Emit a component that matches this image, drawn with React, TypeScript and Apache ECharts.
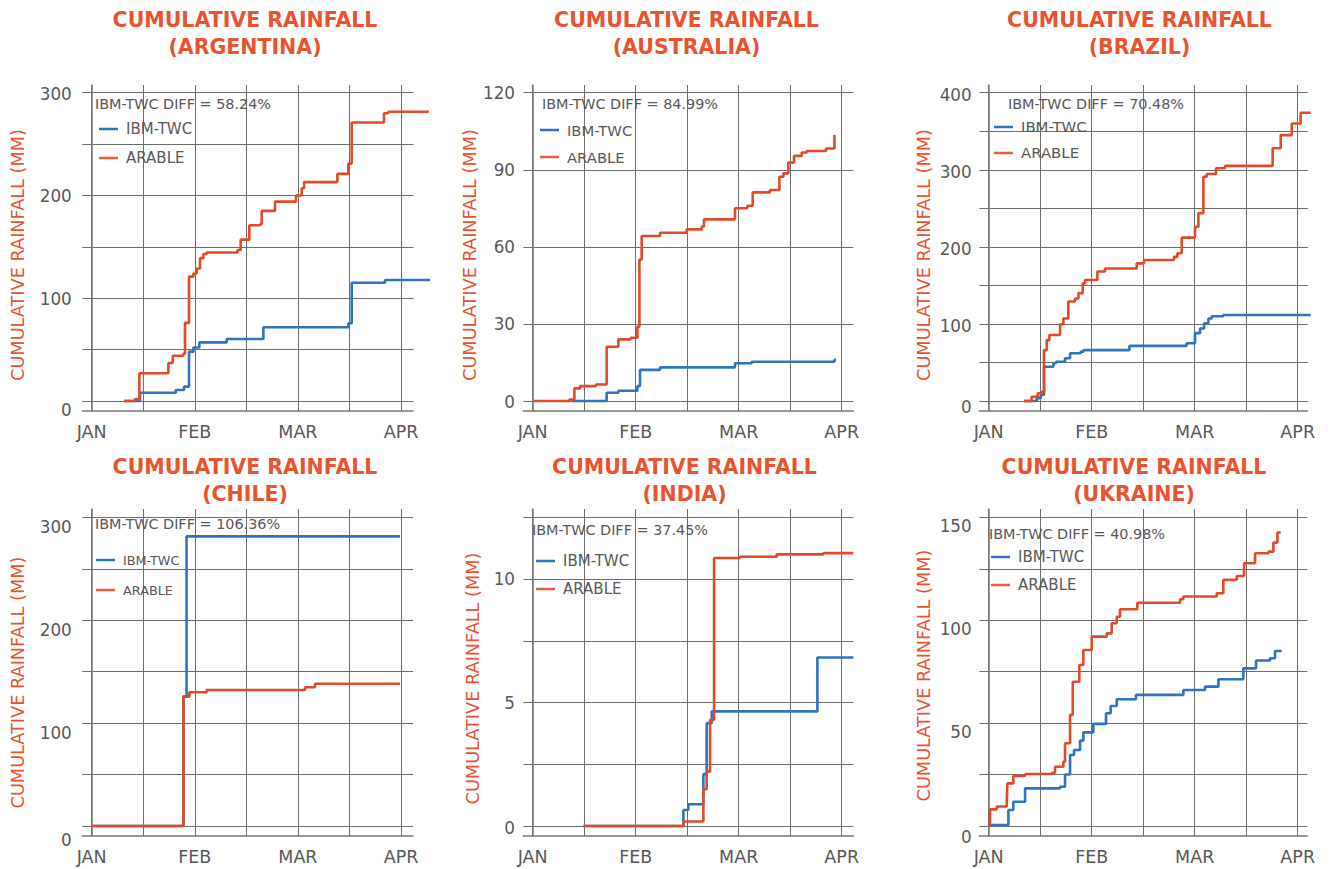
import React, { useEffect, useRef } from "react";
import * as echarts from "echarts";

// ---------------- data ----------------
const MONTH_LABELS = ["JAN", "FEB", "MAR", "APR"];
const MONTH_TICKS = [0, 1, 2, 3];
const MONTH_GRID = [0, 0.5, 1, 1.5, 2, 2.5, 3];

const COUNTRIES = ["ARGENTINA", "AUSTRALIA", "BRAZIL", "CHILE", "INDIA", "UKRAINE"];
const DIFF_LABELS = ["58.24%", "84.99%", "70.48%", "106.36%", "37.45%", "40.98%"];
const SERIES_NAMES = ["IBM-TWC", "ARABLE"];

// x = months since Jan 1 (JAN=0, FEB=1, MAR=2, APR=3), y = cumulative rainfall (mm)
const argentinaTwc = [[0.314, 0], [0.469, 8], [0.815, 10.7], [0.896, 14], [0.944, 48], [0.986, 52], [1.044, 57], [1.309, 60.3], [1.665, 71.7], [2.489, 75.6], [2.522, 115], [2.845, 117.7], [3.282, 117.7]];
const argentinaArable = [[0.314, 0], [0.42, 2], [0.462, 27], [0.744, 37], [0.786, 44], [0.889, 46], [0.905, 76], [0.944, 121], [0.986, 124], [1.018, 129], [1.051, 139], [1.083, 143], [1.115, 144.5], [1.413, 147], [1.445, 157], [1.529, 171], [1.633, 172], [1.649, 185], [1.778, 194], [1.982, 200], [2.037, 207], [2.06, 213], [2.383, 221], [2.489, 231], [2.522, 271], [2.835, 280], [2.877, 281.5], [3.27, 281.5]];

const australiaTwc = [[0.379, 0], [0.718, 3.2], [0.832, 4], [1.016, 5.8], [1.042, 12.1], [1.236, 13.1], [1.964, 14.7], [2.126, 15.3], [2.929, 16], [2.945, 16]];
const australiaArable = [[0.013, 0], [0.356, 0.6], [0.405, 4.9], [0.46, 5.8], [0.615, 6.4], [0.718, 21.1], [0.832, 24], [0.951, 24.6], [1.016, 28.9], [1.036, 55.1], [1.058, 64.2], [1.236, 65.5], [1.495, 66.8], [1.641, 67.9], [1.663, 70.7], [1.964, 75], [2.084, 76], [2.136, 81.2], [2.304, 82.1], [2.395, 87.3], [2.434, 88.6], [2.482, 92.8], [2.537, 95.4], [2.612, 96.7], [2.66, 97.3], [2.848, 98.3], [2.93, 103.5]];

const brazilTwc = [[0.343, 0], [0.466, 3.5], [0.505, 7.8], [0.537, 44.5], [0.628, 49], [0.654, 51], [0.741, 55.4], [0.79, 62], [0.893, 64], [0.919, 66], [1.366, 71.5], [1.922, 75], [2.003, 88], [2.052, 94], [2.091, 100.8], [2.133, 107], [2.165, 110], [2.278, 111.6], [3.126, 111.6]];
const brazilArable = [[0.343, 0], [0.417, 5.6], [0.476, 10], [0.515, 12], [0.537, 66], [0.563, 79], [0.589, 85.6], [0.693, 99.5], [0.725, 107], [0.773, 129], [0.838, 133], [0.871, 140], [0.913, 152.6], [0.935, 157], [1.055, 168], [1.129, 172], [1.437, 178.6], [1.508, 183], [1.799, 187], [1.832, 191.6], [1.874, 212], [2.003, 226], [2.036, 243.5], [2.084, 291], [2.117, 294.5], [2.207, 302], [2.294, 305], [2.757, 328], [2.835, 345], [2.942, 360], [3.029, 374], [3.126, 374]];

const chileTwc = [[0, 0], [0.89, 126], [0.92, 281.5], [2.99, 281.5]];
const chileArable = [[0, 0], [0.889, 125.7], [0.947, 130], [1.115, 132.2], [2.069, 134.8], [2.166, 138.3], [2.99, 138.3]];

const indiaTwc = [[0.492, 0], [1.463, 0.65], [1.511, 0.88], [1.657, 2.1], [1.689, 4.16], [1.738, 4.64], [2.764, 6.82], [3.113, 6.82]];
const indiaArable = [[0.502, 0], [1.463, 0.18], [1.657, 1.49], [1.689, 2.2], [1.722, 4.3], [1.761, 10.85], [2.013, 10.9], [2.369, 11.0], [2.822, 11.05], [3.113, 11.05]];

const ukraineTwc = [[0, 0.5], [0.191, 7.8], [0.239, 11.8], [0.353, 18.3], [0.693, 19.1], [0.741, 25], [0.79, 34.5], [0.828, 36.9], [0.887, 41.5], [0.919, 45.5], [1.016, 49.6], [1.139, 54.8], [1.184, 58.3], [1.243, 61.6], [1.43, 63.7], [1.89, 66.1], [2.1, 67.7], [2.23, 71.3], [2.472, 76.6], [2.595, 80.4], [2.731, 81.5], [2.78, 85], [2.845, 85]];
const ukraineArable = [[0, 0], [0.013, 8.1], [0.078, 9.5], [0.175, 10.2], [0.181, 20.7], [0.239, 24.3], [0.353, 25.3], [0.612, 25.9], [0.644, 28.8], [0.725, 31.3], [0.741, 40.2], [0.79, 54], [0.816, 70.1], [0.88, 78.2], [0.919, 85.5], [1.0, 92], [1.146, 93.6], [1.194, 98.5], [1.243, 101.7], [1.275, 105.3], [1.443, 108.5], [1.858, 110.2], [1.89, 111.5], [2.214, 113.1], [2.278, 119.6], [2.408, 121.5], [2.479, 127.7], [2.586, 132.5], [2.715, 133.3], [2.764, 137.7], [2.803, 142.6], [2.835, 142.6]];

const TWC_DATA = [argentinaTwc, australiaTwc, brazilTwc, chileTwc, indiaTwc, ukraineTwc];
const ARABLE_DATA = [argentinaArable, australiaArable, brazilArable, chileArable, indiaArable, ukraineArable];

const Y_LABEL_TICKS = [
  [0, 100, 200, 300],
  [0, 30, 60, 90, 120],
  [0, 100, 200, 300, 400],
  [0, 100, 200, 300],
  [0, 5, 10],
  [0, 50, 100, 150],
];
const Y_GRID_TICKS = [
  [0, 50, 100, 150, 200, 250, 300],
  [0, 30, 60, 90, 120],
  [0, 50, 100, 150, 200, 250, 300, 350, 400],
  [0, 50, 100, 150, 200, 250, 300],
  [0, 2.5, 5, 7.5, 10, 12.5],
  [0, 25, 50, 75, 100, 125, 150],
];

// ---------------- layout / style ----------------
const BLUE = "#2F74BF";
const RED = "#E24B27";
const LEGEND_RED = "#EE5E3C";
const TITLE_RED = "#E9532F";
const GREY_TEXT = "#585858";
const GRID_LINE = "#6c6c6c";
const FONT = '"DejaVu Sans", "Open Sans", sans-serif';

const COLS = [
  { left: 82.3, jan: 91.7, apr: 401, right: 413, nameGap: 55.6, labelMargin: 10.5 },
  { left: 523.3, jan: 532.7, apr: 841.7, right: 853.3, nameGap: 41.6, labelMargin: 8.3 },
  { left: 979.3, jan: 988.7, apr: 1297.7, right: 1307.3, nameGap: 46.6, labelMargin: 7.6 },
];
const ROWS = [
  { top: 85, bottom: 411, zero: 401, topLine: 92.7, titleTop: 6.5 },
  { top: 509, bottom: 836, zero: 826, topLine: 517.3, titleTop: 453.5 },
];
// plotRight: how far (px) the lines are allowed to run past the framed grid
const PANELS = [
  { col: 0, row: 0, plotRight: 431, titleX: 245, diffX: 95, diffY: 104, legX: 99, legY: 129, legStep: 29, legFont: 15, shiftAll: 1, shiftZero: 9, nameShift: 7 },
  { col: 1, row: 0, plotRight: 853.3, titleX: 686.5, diffX: 542, diffY: 104, legX: 540, legY: 130, legStep: 27, legFont: 14.8, shiftAll: 0, shiftZero: 1, nameShift: 7 },
  { col: 2, row: 0, plotRight: 1311, titleX: 1139.5, diffX: 1008, diffY: 104, legX: 994, legY: 127, legStep: 26, legFont: 14.9, shiftAll: 2, shiftZero: 6, nameShift: 7 },
  { col: 0, row: 1, plotRight: 413, titleX: 245, diffX: 95, diffY: 524, legX: 96, legY: 560, legStep: 30, legFont: 12.8, shiftAll: 10, shiftZero: 14, nameShift: 10 },
  { col: 1, row: 1, plotRight: 853.3, titleX: 684.5, diffX: 532, diffY: 530, legX: 536, legY: 561, legStep: 28, legFont: 15, shiftAll: 0, shiftZero: 2, nameShift: 6 },
  { col: 2, row: 1, plotRight: 1307.3, titleX: 1134, diffX: 989, diffY: 534, legX: 991, legY: 557, legStep: 28, legFont: 15, shiftAll: 9, shiftZero: 11, nameShift: 3 },
];

function buildOption() {
  const grid: any[] = [];
  const xAxis: any[] = [];
  const yAxis: any[] = [];
  const series: any[] = [];
  const title: any[] = [];
  const legend: any[] = [];
  const graphic: any[] = [];

  PANELS.forEach((p, i) => {
    const c = COLS[p.col];
    const r = ROWS[p.row];
    const yTicks = Y_GRID_TICKS[i];
    const yTop = yTicks[yTicks.length - 1];
    const pxPerUnit = (r.zero - r.topLine) / yTop;
    const yMin = -(r.bottom - r.zero) / pxPerUnit;
    const yMax = yTop + (r.topLine - r.top) / pxPerUnit;
    const pxPerMonth = (c.apr - c.jan) / 3;
    const right = Math.max(p.plotRight, c.right);
    const xMin = -(c.jan - c.left) / pxPerMonth;
    const xMax = 3 + (right - c.apr) / pxPerMonth;

    grid.push({
      left: c.left,
      top: r.top,
      width: right - c.left,
      height: r.bottom - r.top,
      containLabel: false,
      outerBoundsMode: "none",
      show: false,
    });

    if (right > c.right + 1) {
      // mask the frame beyond the reference's grid edge (lines keep running over it)
      graphic.push({
        type: "rect",
        z: 1,
        shape: { x: c.right + 0.5, y: r.top - 2, width: right - c.right + 4, height: r.bottom - r.top + 4 },
        style: { fill: "#ffffff" },
        silent: true,
      });
    }

    xAxis.push({
      type: "value",
      gridIndex: i,
      min: xMin,
      max: xMax,
      axisLine: { show: true, onZero: false, lineStyle: { color: "#777", width: 1.5 } },
      axisTick: { show: false, customValues: MONTH_GRID },
      axisLabel: {
        customValues: MONTH_TICKS,
        formatter: (v: number) => MONTH_LABELS[Math.round(v)] ?? "",
        color: GREY_TEXT,
        fontFamily: FONT,
        fontSize: 17.5,
        margin: 12,
      },
      splitLine: { show: true, lineStyle: { color: GRID_LINE, width: 1 } },
    });

    const labelStyle = { color: GREY_TEXT, fontFamily: FONT, fontSize: 16.8 };
    yAxis.push({
      type: "value",
      gridIndex: i,
      min: yMin,
      max: yMax,
      name: "CUMULATIVE RAINFALL (MM)",
      nameLocation: "middle",
      nameGap: c.nameGap,
      nameTextStyle: {
        color: TITLE_RED,
        fontFamily: FONT,
        fontSize: 17.7,
        padding: [0, 2 * p.nameShift, 0, 0],
      },
      axisLine: { show: true, lineStyle: { color: "#777", width: 1.5 } },
      axisTick: { show: false, customValues: yTicks },
      axisLabel: {
        customValues: Y_LABEL_TICKS[i],
        margin: c.labelMargin,
        formatter: (v: number) => (v === 0 ? "{z|0}" : `{a|${v}}`),
        ...labelStyle,
        rich: {
          a: { ...labelStyle, padding: [2 * p.shiftAll, 0, 0, 0] },
          z: { ...labelStyle, padding: [2 * p.shiftZero, 0, 0, 0] },
        },
      },
      splitLine: { show: true, lineStyle: { color: GRID_LINE, width: 1 } },
    });

    title.push({
      text: `CUMULATIVE RAINFALL\n(${COUNTRIES[i]})`,
      left: p.titleX,
      top: r.titleTop,
      textAlign: "center",
      padding: 0,
      textStyle: {
        color: TITLE_RED,
        fontFamily: FONT,
        fontSize: 20.5,
        fontWeight: "bold",
        lineHeight: 27,
      },
    });
    title.push({
      text: `IBM-TWC DIFF = ${DIFF_LABELS[i]}`,
      left: p.diffX,
      top: p.diffY - 8,
      padding: 0,
      textStyle: {
        color: GREY_TEXT,
        fontFamily: FONT,
        fontSize: 14.4,
        fontWeight: "normal",
        lineHeight: 16,
      },
    });

    const lh = Math.round(p.legFont) + 2;
    legend.push({
      show: true,
      orient: "vertical",
      left: p.legX,
      top: p.legY - lh / 2,
      padding: 0,
      itemGap: p.legStep - lh,
      itemWidth: 19,
      itemHeight: 2.5,
      icon: "rect",
      selectedMode: false,
      data: [
        { name: SERIES_NAMES[0], itemStyle: { color: BLUE } },
        { name: SERIES_NAMES[1], itemStyle: { color: LEGEND_RED } },
      ],
      textStyle: { color: GREY_TEXT, fontFamily: FONT, fontSize: p.legFont, lineHeight: lh, padding: [0, 0, 0, 3] },
    });

    series.push({
      type: "line",
      name: SERIES_NAMES[0],
      xAxisIndex: i,
      yAxisIndex: i,
      data: TWC_DATA[i],
      step: "end",
      symbol: "none",
      showSymbol: false,
      clip: false,
      z: 3,
      color: BLUE,
      itemStyle: { color: BLUE },
      lineStyle: { color: BLUE, width: 2.6 },
    });
    series.push({
      type: "line",
      name: SERIES_NAMES[1],
      xAxisIndex: i,
      yAxisIndex: i,
      data: ARABLE_DATA[i],
      step: "end",
      symbol: "none",
      showSymbol: false,
      clip: false,
      z: 4,
      color: RED,
      itemStyle: { color: RED },
      lineStyle: { color: RED, width: 2.6 },
    });
  });

  return {
    animation: false,
    backgroundColor: "#ffffff",
    textStyle: { fontFamily: FONT },
    title,
    legend,
    grid,
    xAxis,
    yAxis,
    series,
    graphic: { elements: graphic },
  };
}

export default function App() {
  const ref = useRef<HTMLDivElement | null>(null);
  useEffect(() => {
    if (!ref.current) return;
    const chart = echarts.init(ref.current, undefined, { renderer: "svg" });
    chart.setOption(buildOption() as any);
    return () => {
      chart.dispose();
    };
  }, []);
  return (
    <div
      ref={ref}
      style={{ position: "fixed", left: 0, top: 0, width: 1333, height: 869, background: "#fff" }}
    />
  );
}
